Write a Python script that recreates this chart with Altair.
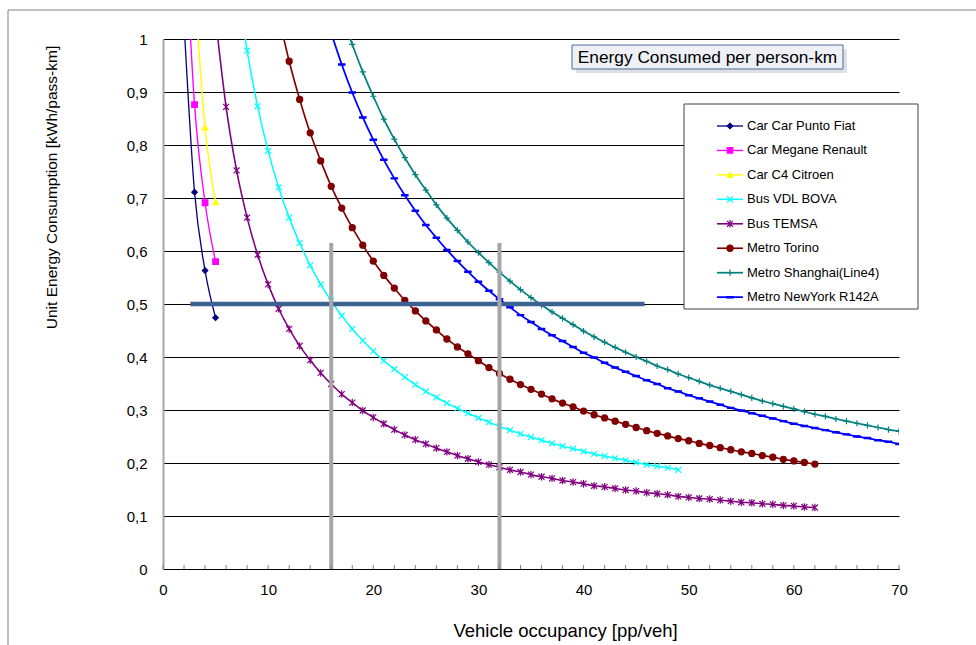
import altair as alt
import pandas as pd

# ---------------- data ----------------
series_names = ["Car Car Punto Fiat", "Car Megane Renault", "Car C4 Citroen", "Bus VDL BOVA",
                "Bus TEMSA", "Metro Torino", "Metro Shanghai(Line4)", "Metro NewYork R142A"]
series_colors = ["#000080", "#FF00FF", "#FFFF00", "#00FFFF", "#800080", "#800000", "#008080", "#0000FF"]

punto_occ = [2, 3, 4, 5]
punto_kwh = [1.03, 0.711, 0.563, 0.474]

megane_occ = [2, 3, 4, 5]
megane_kwh = [1.246, 0.876, 0.691, 0.580]

c4_occ = [3, 4, 5]
c4_kwh = [1.10, 0.833, 0.692]

vdl_occ = list(range(7, 50))
vdl_kwh = [1.113, 0.978, 0.873, 0.789, 0.720, 0.663, 0.615, 0.573, 0.537, 0.506,
           0.478, 0.453, 0.431, 0.411, 0.393, 0.377, 0.362, 0.348, 0.335, 0.324,
           0.313, 0.303, 0.294, 0.285, 0.277, 0.269, 0.262, 0.255, 0.249, 0.243,
           0.237, 0.232, 0.227, 0.222, 0.217, 0.213, 0.209, 0.205, 0.201, 0.197,
           0.194, 0.191, 0.187]

temsa_occ = list(range(5, 63))
temsa_kwh = [1.039, 0.872, 0.752, 0.663, 0.593, 0.537, 0.491, 0.453, 0.421, 0.394,
             0.370, 0.349, 0.330, 0.314, 0.299, 0.286, 0.274, 0.263, 0.253, 0.244,
             0.236, 0.228, 0.221, 0.214, 0.208, 0.202, 0.197, 0.192, 0.187, 0.183,
             0.178, 0.174, 0.171, 0.167, 0.164, 0.161, 0.157, 0.155, 0.152, 0.149,
             0.147, 0.144, 0.142, 0.140, 0.137, 0.135, 0.133, 0.132, 0.130, 0.128,
             0.126, 0.125, 0.123, 0.122, 0.120, 0.119, 0.117, 0.116]

torino_occ = list(range(11, 63))
torino_kwh = [1.044, 0.958, 0.886, 0.823, 0.770, 0.722, 0.681, 0.644, 0.611, 0.581,
              0.554, 0.530, 0.507, 0.487, 0.468, 0.451, 0.434, 0.419, 0.406, 0.393,
              0.380, 0.369, 0.358, 0.348, 0.339, 0.330, 0.321, 0.313, 0.306, 0.298,
              0.291, 0.285, 0.279, 0.273, 0.267, 0.261, 0.256, 0.251, 0.246, 0.242,
              0.237, 0.233, 0.229, 0.225, 0.221, 0.218, 0.214, 0.211, 0.207, 0.204,
              0.201, 0.198]

shanghai_occ = list(range(17, 71))
shanghai_kwh = [1.048, 0.990, 0.938, 0.892, 0.849, 0.811, 0.776, 0.744, 0.715, 0.687,
                0.662, 0.639, 0.617, 0.597, 0.578, 0.560, 0.543, 0.527, 0.512, 0.498,
                0.485, 0.473, 0.461, 0.449, 0.438, 0.428, 0.418, 0.409, 0.400, 0.392,
                0.383, 0.376, 0.368, 0.361, 0.354, 0.347, 0.341, 0.335, 0.329, 0.323,
                0.317, 0.312, 0.307, 0.302, 0.297, 0.292, 0.288, 0.283, 0.279, 0.275,
                0.271, 0.267, 0.263, 0.260]

newyork_occ = list(range(16, 71))
newyork_kwh = [1.011, 0.952, 0.899, 0.852, 0.810, 0.772, 0.737, 0.705, 0.676, 0.649,
               0.625, 0.602, 0.581, 0.561, 0.542, 0.525, 0.509, 0.494, 0.479, 0.466,
               0.453, 0.441, 0.430, 0.419, 0.408, 0.399, 0.389, 0.380, 0.372, 0.364,
               0.356, 0.349, 0.341, 0.335, 0.328, 0.322, 0.316, 0.310, 0.304, 0.299,
               0.294, 0.289, 0.284, 0.279, 0.274, 0.270, 0.266, 0.262, 0.258, 0.254,
               0.250, 0.247, 0.243, 0.240, 0.236]

# reference lines
hline_kwh = [0.5]
hline_occ = [2.6, 45.8]
vline_occ = [16, 32]
vline_top = [0.615]

x_label_values = [0, 10, 20, 30, 40, 50, 60, 70]
x_tick_values = list(range(0, 71, 2))
y_values = [0, 0.1, 0.2, 0.3, 0.4, 0.5, 0.6, 0.7, 0.8, 0.9, 1.0]

title_text = "Energy Consumed per person-km"
x_title = "Vehicle occupancy [pp/veh]"
y_title = "Unit Energy Consumption  [kWh/pass-km]"

# ---------------- tables ----------------
all_occ = [punto_occ, megane_occ, c4_occ, vdl_occ, temsa_occ, torino_occ, shanghai_occ, newyork_occ]
all_kwh = [punto_kwh, megane_kwh, c4_kwh, vdl_kwh, temsa_kwh, torino_kwh, shanghai_kwh, newyork_kwh]
frames = []
for name, occ, kwh in zip(series_names, all_occ, all_kwh):
    frames.append(pd.DataFrame({"series": name, "occ": occ, "kwh": kwh}))
df = pd.concat(frames, ignore_index=True)

hdf = pd.DataFrame({"y": hline_kwh, "x1": [hline_occ[0]], "x2": [hline_occ[1]]})
vdf = pd.DataFrame({"x": vline_occ, "y1": [0, 0], "y2": vline_top * 2})
tdf = pd.DataFrame({"x": x_tick_values})
one = pd.DataFrame({"k": [0]})
FONT = "Liberation Sans"

W, H = 736, 530
LEG_ROW0, LEG_STEP = 87, 24.45
leg = pd.DataFrame({"series": series_names,
                    "ly": [LEG_ROW0 + LEG_STEP * i for i in range(len(series_names))]})

series_shapes = ["diamond", "square", "triangle-up",
                 "M-1,-1L1,1M-1,1L1,-1",
                 "M-1,-1L1,1M-1,1L1,-1M0,-1.25L0,1.25",
                 "circle",
                 "M-1,0L1,0M0,-1L0,1",
                 "M-1,-0.2L1,-0.2L1,0.2L-1,0.2Z"]
series_sizes = [30, 40, 42, 42, 42, 44, 45, 12]
line_widths = [1.3, 1.8, 1.3, 1.3, 1.3, 1.5, 1.3, 1.6]

color_scale = alt.Scale(domain=series_names, range=series_colors)
shape_scale = alt.Scale(domain=series_names, range=series_shapes)
size_scale = alt.Scale(domain=series_names, range=series_sizes)
sw_scale = alt.Scale(domain=series_names, range=line_widths)

x_scale = alt.Scale(domain=[0, 70], nice=False, zero=False)
y_scale = alt.Scale(domain=[0, 1], nice=False, zero=False)

x_axis = alt.Axis(values=x_label_values, grid=False, ticks=False, tickSize=0,
                  domainColor="#000000", domainWidth=1,
                  labelFont=FONT, labelFontSize=15, labelColor="#000000", labelPadding=13,
                  labelFlush=False,
                  title=x_title, titleFont=FONT, titleFontSize=18.5, titleFontWeight="normal",
                  titleColor="#000000", titleX=402, titleY=52, titleBaseline="top", titleAlign="center")
y_axis = alt.Axis(values=y_values, grid=True, gridColor="#000000", gridWidth=1, gridOpacity=1,
                  ticks=False, tickSize=0, domainColor="#A6A6A6", domainWidth=2,
                  labelFont=FONT, labelFontSize=15, labelColor="#000000", labelPadding=16,
                  labelExpr="datum.value == 0 ? '0' : datum.value == 1 ? '1' : replace(format(datum.value, '.1f'), '.', ',')",
                  title=y_title, titleFont=FONT, titleFontSize=15.5, titleFontWeight="normal",
                  titleColor="#000000", titleAngle=270, titleX=-112, titleY=148,
                  titleBaseline="middle", titleAlign="center")

# ---------------- layers ----------------
frame = alt.Chart(one).mark_rect(fillOpacity=0, stroke="#808080", strokeWidth=1).encode(
    x=alt.value(-155), x2=alt.value(900), y=alt.value(-29), y2=alt.value(700))

lines = alt.Chart(df).mark_line(interpolate="monotone", clip=True).encode(
    x=alt.X("occ:Q", scale=x_scale, axis=x_axis),
    y=alt.Y("kwh:Q", scale=y_scale, axis=y_axis),
    color=alt.Color("series:N", scale=color_scale, legend=None),
    strokeWidth=alt.StrokeWidth("series:N", scale=sw_scale, legend=None),
    detail="series:N")

points = alt.Chart(df).mark_point(filled=True, clip=True, strokeWidth=1.2, opacity=1).encode(
    x=alt.X("occ:Q", scale=x_scale),
    y=alt.Y("kwh:Q", scale=y_scale),
    fill=alt.Fill("series:N", scale=color_scale, legend=None),
    stroke=alt.Stroke("series:N", scale=color_scale, legend=None),
    shape=alt.Shape("series:N", scale=shape_scale, legend=None),
    size=alt.Size("series:N", scale=size_scale, legend=None))

hline = alt.Chart(hdf).mark_rule(color="#3B6292", strokeWidth=4.5).encode(
    x=alt.X("x1:Q", scale=x_scale), x2="x2:Q", y=alt.Y("y:Q", scale=y_scale))

vlines = alt.Chart(vdf).mark_rule(color="#A6A6A6", strokeWidth=4).encode(
    x=alt.X("x:Q", scale=x_scale), y=alt.Y("y1:Q", scale=y_scale), y2="y2:Q")

xticks = alt.Chart(tdf).mark_rule(color="#808080", strokeWidth=1).encode(
    x=alt.X("x:Q", scale=x_scale), y=alt.value(H - 4), y2=alt.value(H))

# title box
title_shadow = alt.Chart(one).mark_rect(fill="#C8CCD4", opacity=0.6).encode(
    x=alt.value(413), x2=alt.value(684), y=alt.value(10), y2=alt.value(34))
title_box = alt.Chart(one).mark_rect(fill="#EEF0F6", stroke="#4A6A9A", strokeWidth=1).encode(
    x=alt.value(409), x2=alt.value(680), y=alt.value(6), y2=alt.value(30))
title_label = alt.Chart(one).mark_text(text=title_text, font=FONT, fontSize=17.3, color="#000000",
                                       align="center", baseline="middle").encode(
    x=alt.value(544.5), y=alt.value(18.5))

# legend
legend_box = alt.Chart(one).mark_rect(fill="#FFFFFF", stroke="#404040", strokeWidth=1).encode(
    x=alt.value(521), x2=alt.value(755), y=alt.value(65), y2=alt.value(270))
legend_rules = alt.Chart(leg).mark_rule().encode(
    x=alt.value(554), x2=alt.value(580),
    y=alt.Y("ly:Q", scale=None, axis=None),
    color=alt.Color("series:N", scale=color_scale, legend=None),
    strokeWidth=alt.StrokeWidth("series:N", scale=sw_scale, legend=None))
legend_points = alt.Chart(leg).mark_point(filled=True, strokeWidth=1.2, opacity=1).encode(
    x=alt.value(567),
    y=alt.Y("ly:Q", scale=None, axis=None),
    fill=alt.Fill("series:N", scale=color_scale, legend=None),
    stroke=alt.Stroke("series:N", scale=color_scale, legend=None),
    shape=alt.Shape("series:N", scale=shape_scale, legend=None),
    size=alt.Size("series:N", scale=size_scale, legend=None))
legend_text = alt.Chart(leg).mark_text(font=FONT, fontSize=13, color="#000000",
                                       align="left", baseline="middle").encode(
    x=alt.value(584),
    y=alt.Y("ly:Q", scale=None, axis=None),
    text="series:N")

chart = alt.layer(
    frame, title_shadow, title_box, title_label,
    lines, points, hline, vlines, xticks,
    legend_box, legend_rules, legend_points, legend_text
).properties(
    width=W, height=H,
    autosize=alt.AutoSizeParams(type="none"),
    padding={"left": 163, "top": 39, "right": 77, "bottom": 76},
    background="#FFFFFF"
).configure_view(stroke=None)

chart.save("out.html", embed_options={"renderer": "svg", "actions": False})
